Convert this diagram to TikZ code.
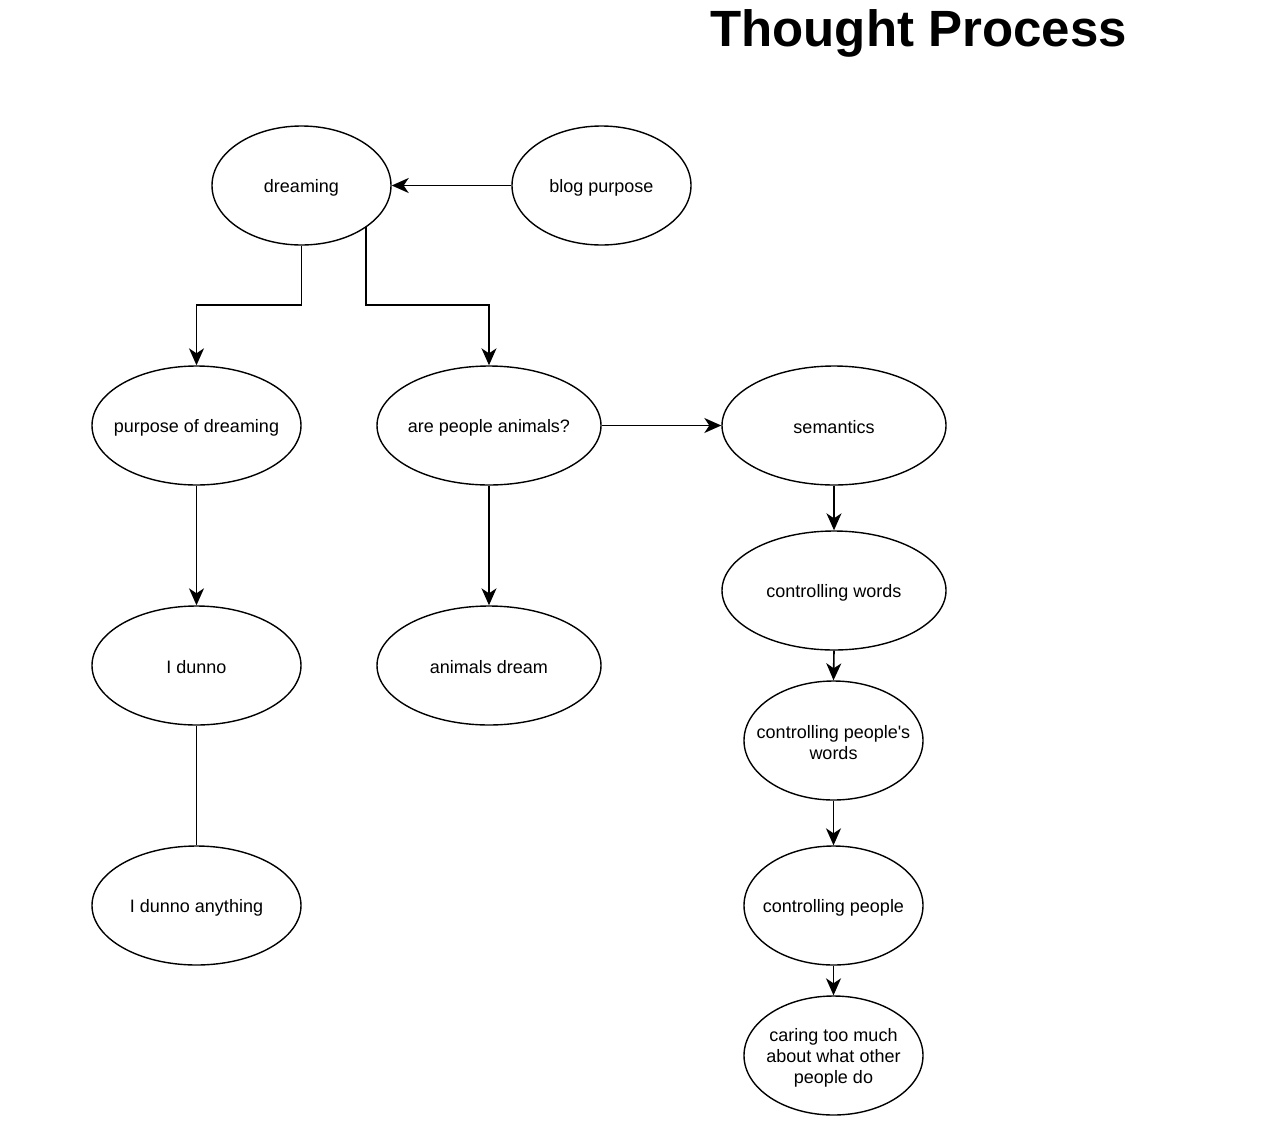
\documentclass[tikz,border=0pt]{standalone}
\usepackage{fontspec}
\setmainfont{Liberation Sans}
\usetikzlibrary{shapes.geometric,arrows.meta}
\begin{document}
\begin{tikzpicture}[x=1pt,y=-1pt,
  lbl/.style={align=center, font=\fontsize{18}{21}\selectfont, inner sep=0pt, yshift=-2pt},
  ell/.style={draw, ellipse, line width=1.4pt, inner sep=0pt, label={[lbl]center:#1}},
  smallell/.style={ell={#1}, minimum width=179pt, minimum height=119pt},
  midell/.style={ell={#1}, minimum width=209pt, minimum height=119pt},
  wideell/.style={ell={#1}, minimum width=224pt, minimum height=119pt},
  arr/.style={line width=1.6pt, -{Stealth[length=17pt,width=15pt,inset=5pt]}},
  con/.style={line width=1.6pt},
  ttl/.style={font=\fontsize{51}{51}\selectfont\bfseries, anchor=base}
]
\useasboundingbox (0,0) rectangle (1288,1138);
\node[ttl] (title) at (918.5,46) {Thought Process};

\node[smallell={dreaming}] (dreaming) at (301.5,185.5) {};
\node[smallell={blog purpose}] (blog) at (601.5,185.5) {};
\node[midell={purpose of dreaming}] (purpose) at (196.5,425.5) {};
\node[wideell={are people animals?}] (animals) at (489,425.5) {};
\node[wideell={semantics}] (semantics) at (834,425.5) {};
\node[wideell={controlling words}] (cwords) at (834,590.5) {};
\node[smallell={controlling people\textquotesingle s\\words}] (cpwords) at (833.5,740.5) {};
\node[smallell={controlling people}] (cpeople) at (833.5,905.5) {};
\node[smallell={caring too much\\about what other\\people do}] (caring) at (833.5,1055.5) {};
\node[midell={I dunno}] (dunno) at (196.5,665.5) {};
\node[wideell={animals dream}] (adream) at (489,665.5) {};
\node[midell={I dunno anything}] (dunnoany) at (196.5,905.5) {};

\coordinate (j1) at (196.5,305);
\coordinate (j2) at (489,305);

\draw[arr] (blog.west) -- (dreaming.east);
\draw[arr] (dreaming.south) |- (j1) -- (purpose.north);
\draw[arr] (dreaming.-33.4) |- (j2) -- (animals.north);
\draw[arr] (animals.east) -- (semantics.west);
\draw[arr] (animals.south) -- (adream.north);
\draw[arr] (purpose.south) -- (dunno.north);
\draw[con] (dunno.south) -- (dunnoany.north);
\draw[arr] (semantics.south) -- (cwords.north);
\draw[arr] (cwords.south) -- (cpwords.north);
\draw[arr] (cpwords.south) -- (cpeople.north);
\draw[arr] (cpeople.south) -- (caring.north);
\end{tikzpicture}
\end{document}
